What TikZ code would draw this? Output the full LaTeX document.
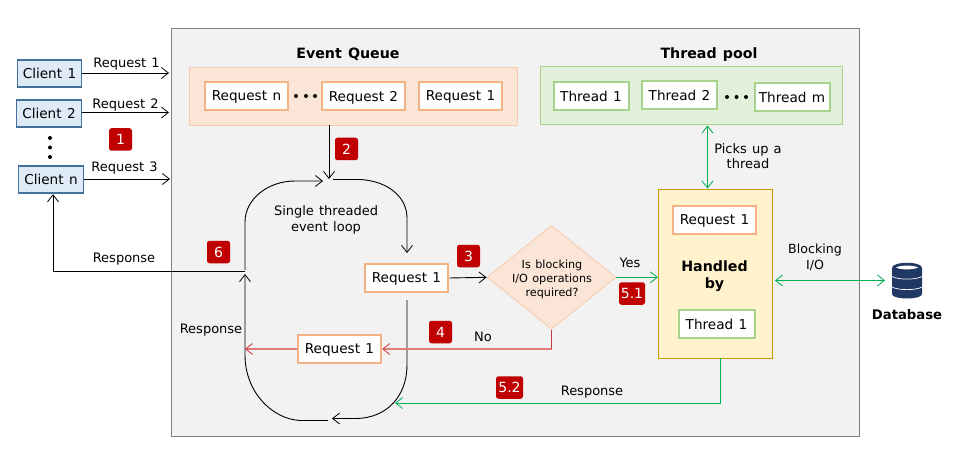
\documentclass[tikz,border=0pt]{standalone}
\usepackage{fontspec}
\setmainfont[WordSpace=1.25]{DejaVu Sans}
\usetikzlibrary{arrows.meta,shapes.geometric}
\definecolor{panelgray}{HTML}{F2F2F2}
\definecolor{panelline}{HTML}{7F7F7F}
\definecolor{clientfill}{HTML}{DEEAF6}
\definecolor{clientline}{HTML}{41719C}
\definecolor{orfill}{HTML}{FBE5D6}
\definecolor{orline}{HTML}{F4B183}
\definecolor{orthin}{HTML}{F8CBAD}
\definecolor{grfill}{HTML}{E2F0D9}
\definecolor{grline}{HTML}{A9D18E}
\definecolor{yelfill}{HTML}{FFF2CC}
\definecolor{yelline}{HTML}{C99A00}
\definecolor{badgered}{HTML}{C00000}
\definecolor{arrowgreen}{HTML}{00B050}
\definecolor{arrowred}{HTML}{C8383C}
\definecolor{redsoft}{HTML}{E07B7B}
\definecolor{navy}{HTML}{203864}
\tikzset{
  x=1pt,y=-1pt,
  txt/.style={inner sep=0pt,font=\fontsize{13}{15.5}\selectfont,text=black,align=center,text depth=0pt},
  clientbox/.style={draw=clientline,line width=1.9pt,fill=clientfill,inner sep=0pt,minimum height=27.5pt,text depth=0pt,font=\fontsize{13.6}{15}\selectfont},
  reqbox/.style={draw=orline,line width=2pt,fill=white,inner sep=0pt,minimum width=83.5pt,minimum height=28.5pt,text depth=0pt,font=\fontsize{13.6}{15}\selectfont},
  thrbox/.style={draw=grline,line width=2pt,fill=white,inner sep=0pt,minimum width=75pt,minimum height=28.5pt,text depth=0pt,font=\fontsize{13.6}{15}\selectfont},
  badge/.style={fill=badgered,rounded corners=2.5pt,inner sep=0pt,minimum height=22.5pt,minimum width=23pt,text=white,text depth=0pt,font=\fontsize{14}{15}\selectfont},
  dotmark/.style={fill=black,circle,inner sep=0pt,minimum size=4pt},
  head/.style={inner sep=0pt,font=\bfseries\fontsize{14.2}{15}\selectfont,align=center,text depth=0pt},
  blk/.style={draw=black,line width=.9pt,-{Straight Barb[length=7pt,width=11pt,line width=.8pt]}},
  grn/.style={draw=arrowgreen,line width=1pt,-{Straight Barb[length=7pt,width=11pt,line width=.8pt]}},
  grnboth/.style={draw=arrowgreen,line width=1pt,{Straight Barb[length=7pt,width=11pt,line width=.8pt]}-{Straight Barb[length=7pt,width=11pt,line width=.8pt]}},
  rd/.style={draw=redsoft,line width=1.4pt,-{Straight Barb[length=7pt,width=11pt,line width=.8pt,color=arrowred]}},
}
\begin{document}
\begin{tikzpicture}
\useasboundingbox (0,0) rectangle (973,470);
% panel
\node[draw=panelline,line width=.9pt,fill=panelgray,inner sep=0pt,minimum width=688pt,minimum height=408pt] (panel) at (515,232) {};
% queue and pool
\node[draw=orthin,line width=.8pt,fill=orfill,inner sep=0pt,minimum width=327.5pt,minimum height=58pt] (queue) at (353.3,96) {};
\node[draw=grline,line width=.8pt,fill=grfill,inner sep=0pt,minimum width=302pt,minimum height=58pt] (pool) at (691,95.5) {};
\node[head] (qtitle) at (348,53) {Event Queue};
\node[head] (ptitle) at (709,53) {Thread pool};
\node[reqbox] (rn) at (246.5,96) {Request n};
\node[reqbox] (r2) at (363.5,96) {Request 2};
\node[reqbox] (r1) at (460.5,96) {Request 1};
\node[dotmark] (qd1) at (296,96) {};
\node[dotmark] (qd2) at (306,96) {};
\node[dotmark] (qd3) at (315,96) {};
\node[thrbox] (t1) at (591,96) {Thread 1};
\node[thrbox] (t2) at (679.5,95) {Thread 2};
\node[thrbox] (tm) at (792,97) {Thread m};
\node[dotmark] (pd1) at (727,97) {};
\node[dotmark] (pd2) at (736.5,97) {};
\node[dotmark] (pd3) at (746,97) {};
% clients
\node[clientbox,minimum width=64pt] (c1) at (49.5,73.5) {Client 1};
\node[clientbox,minimum width=65pt] (c2) at (49,113.5) {Client 2};
\node[clientbox,minimum width=65pt] (cn) at (51,179.5) {Client n};
\node[dotmark] (cd1) at (50,138) {};
\node[dotmark] (cd2) at (50,147.5) {};
\node[dotmark] (cd3) at (50,157) {};
\coordinate (e1) at (169,73);
\coordinate (e2) at (169,112.5);
\coordinate (e3) at (170,179);
\draw[blk] (c1.east |- e1) -- (e1);
\draw[blk] (c2.east |- e2) -- (e2);
\draw[blk] (cn.east |- e3) -- (e3);
\node[txt] (l1) at (126.5,62.5) {Request 1};
\node[txt] (l2) at (125.5,103.5) {Request 2};
\node[txt] (l3) at (124.5,166.5) {Request 3};
% loop
\coordinate (qin) at (329,179);
\coordinate (topL) at (323,181);
\coordinate (topR) at (333,179.5);
\coordinate (lefttop) at (245,270);
\coordinate (leftbot) at (245,274);
\coordinate (botL) at (328,420.5);
\coordinate (botR) at (332,418.5);
\coordinate (rbstart) at (407,300);
\coordinate (rtop) at (407,253);
\node[reqbox] (rq) at (406.5,278) {Request 1};
\node[reqbox] (rr) at (339.5,349) {Request 1};
\draw[blk] (lefttop) -- (245,222) .. controls (245,199) and (268,181) .. (295,181) -- (topL);
\draw[blk] (topR) -- (360,179.5) .. controls (388,181) and (407,197) .. (407,218) -- (rtop);
\draw[blk] (rbstart) -- (407,365) .. controls (407,395) and (388,418.5) .. (355,418.5) -- (botR);
\draw[blk] (botL) -- (300,420.5) .. controls (272,419) and (245,392) .. (245,355) -- (leftbot);
\draw[blk] (queue.south -| qin) -- (qin);
\node[txt] (loopl) at (326,218.5) {Single threaded\\event loop};
% response to client
\coordinate (respc) at (245,271);
\coordinate (respk) at (53,271);
\draw[blk] (respc) -- (respk) -- (respk |- cn.south);
\node[txt] (lresp) at (124,258) {Response};
\node[txt] (lresp2) at (211,329) {Response};
% decision
\node[diamond,draw=orthin,line width=.8pt,fill=orfill,inner sep=0pt,minimum width=129pt,minimum height=104pt] (dec) at (551.5,277.3) {};
\node[inner sep=0pt,align=center,text depth=0pt,font=\fontsize{11.2}{14}\selectfont] (dect) at (552,278) {Is blocking\\I/O operations\\required?};
\draw[blk] (rq.east) -- (dec.west);
\coordinate (redk) at (551.5,349);
\draw[rd] (dec.south) -- (redk) -- (rr.east);
\draw[rd] (rr.west) -- (245,349);
\draw[draw=arrowred,line width=1pt] (dec.south) -- ++(0,19);
\node[txt] (lno) at (483,337) {No};
\node[txt] (lyes) at (630,263) {Yes};
% handled box
\node[draw=yelline,line width=.9pt,fill=yelfill,inner sep=0pt,minimum width=114pt,minimum height=169pt] (hand) at (715.3,273.5) {};
\node[reqbox] (hr) at (714.5,220) {Request 1};
\node[thrbox,minimum width=76pt] (ht) at (716.5,324) {Thread 1};
\node[inner sep=0pt,align=center,text depth=0pt,font=\bfseries\fontsize{14.2}{17.5}\selectfont] (htxt) at (714.5,274.5) {Handled\\by};
\draw[grn] (dec.east) -- (hand.west |- dec.east);
\coordinate (pk) at (707.5,125.5);
\draw[grnboth] (pk) -- (pk |- hand.north);
\node[txt] (lpick) at (748,156) {Picks up a\\thread};
\coordinate (hb) at (720,358);
\coordinate (hk) at (720,403);
\coordinate (hend) at (395,403);
\draw[grn] (hb) -- (hk) -- (hend);
\node[txt] (lresp3) at (592,391) {Response};
% database
\coordinate (dbend) at (885,280.5);
\coordinate (hex) at (775,280.5);
\draw[grnboth] (hex) -- (dbend);
\node[txt,font=\fontsize{12.6}{15.5}\selectfont] (lblock) at (815,256.5) {Blocking\\I/O};
\fill[navy] (892,268) -- (892,294) .. controls (892,300) and (922,300) .. (922,294) -- (922,268) .. controls (922,261) and (892,261) .. (892,268) -- cycle;
\fill[white] (896,267.5) .. controls (900,265) and (914,265) .. (918,267.5) .. controls (914,270) and (900,270) .. (896,267.5) -- cycle;
\draw[white,line width=.7pt] (892,276.5) .. controls (898,280) and (916,280) .. (922,276.5);
\draw[white,line width=.7pt] (892,287) .. controls (898,290.5) and (916,290.5) .. (922,287);
\node[head,font=\bfseries\fontsize{13.2}{15}\selectfont] (dbl) at (907,314) {Database};
% badges
\node[badge] (b1) at (120.5,139.5) {1};
\node[badge] (b2) at (346.5,149) {2};
\node[badge] (b3) at (468.5,256) {3};
\node[badge] (b4) at (440.5,332) {4};
\node[badge,minimum width=26pt] (b51) at (632,293.5) {5.1};
\node[badge,minimum width=27pt] (b52) at (509.5,387.5) {5.2};
\node[badge] (b6) at (218.5,252) {6};
\end{tikzpicture}
\end{document}
